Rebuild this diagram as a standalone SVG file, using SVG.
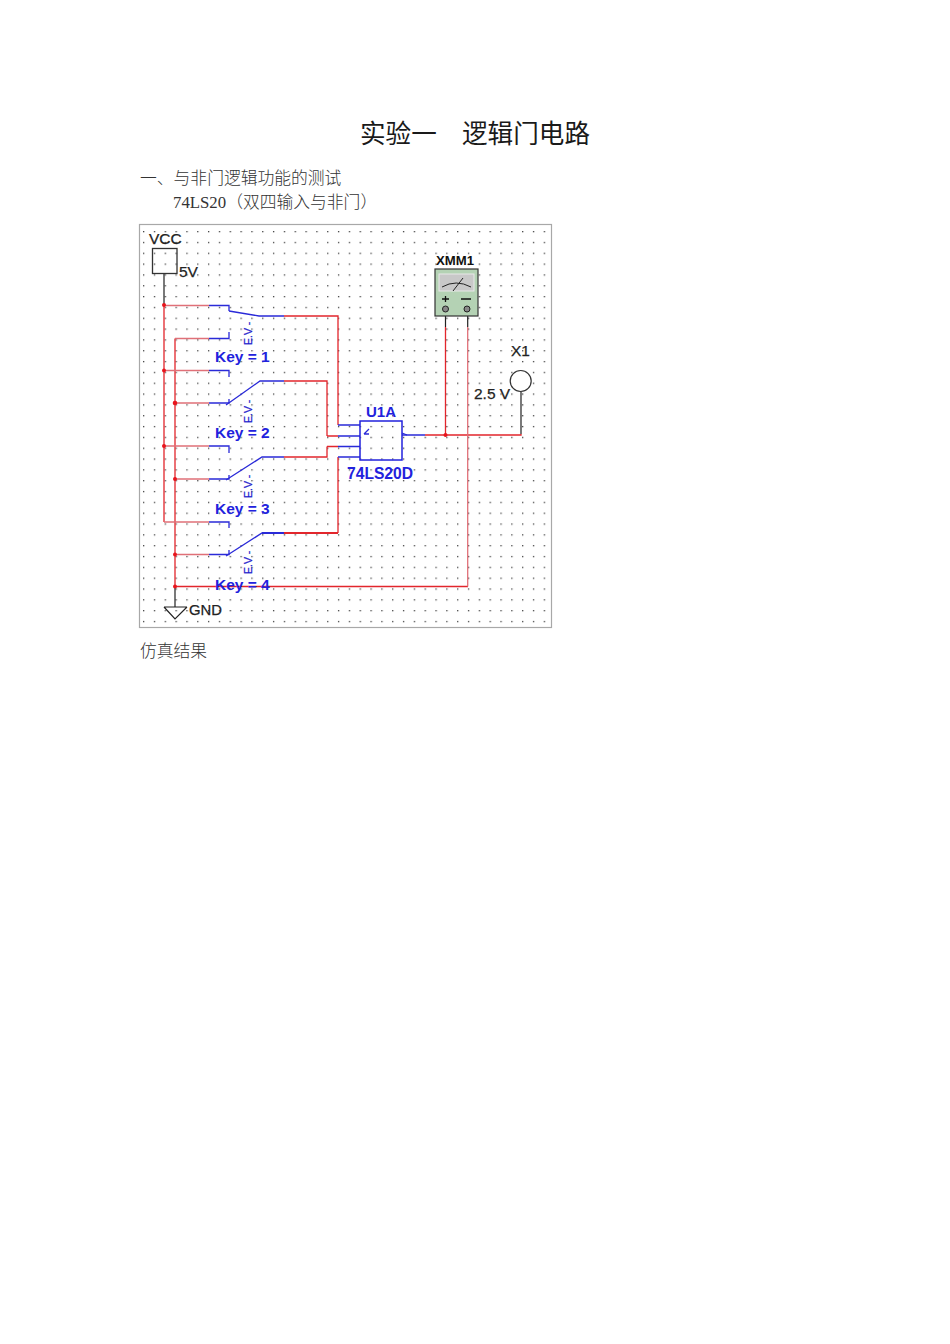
<svg xmlns="http://www.w3.org/2000/svg" width="950" height="1344" viewBox="0 0 950 1344">
<style>
.r{stroke:#e2262c;stroke-width:1.3;fill:none}
.rl{stroke:#e07078;stroke-width:1.3;fill:none}
.b{stroke:#2a2ad8;stroke-width:1.3;fill:none}
.k{stroke:#222;stroke-width:1.2;fill:none}
.d{fill:#e8141c}
.doc{font-family:"Liberation Serif","Noto Sans CJK SC",serif;font-size:16.8px;font-weight:300;fill:#333}
.title{font-family:"Noto Sans CJK SC",sans-serif;font-size:25.6px;fill:#1a1a1a}
.bl{font-family:"Liberation Sans",sans-serif;font-size:15.500px;fill:#2222dd;font-weight:bold}
.ev{font-family:"Liberation Sans",sans-serif;font-size:10.500px;fill:#2222cc;stroke:#2222cc;stroke-width:.25}
.bk{font-family:"Liberation Sans",sans-serif;font-size:15.500px;fill:#222;stroke:#222;stroke-width:.25}
</style>
<defs>
<pattern id="grid" x="143" y="231" width="10.83" height="10.83" patternUnits="userSpaceOnUse"><rect x="0" y="0" width="1.3" height="1.3" fill="#444"/></pattern>
</defs>
<rect width="950" height="1344" fill="#fff"/>
<g id="text-doc">
<text class="title" x="360" y="143">实验一</text>
<text class="title" x="462" y="143">逻辑门电路</text>
<text class="doc" x="140" y="184">一、与非门逻辑功能的测试</text>
<text class="doc" x="173" y="208">74LS20（双四输入与非门）</text>
<text class="doc" x="140" y="657">仿真结果</text>
</g>
<g id="frame">
<rect x="139.5" y="224.5" width="412" height="403" fill="#fff" stroke="#a8a8a8" stroke-width="1.2"/>
<rect x="141" y="226" width="409" height="400" fill="url(#grid)"/>
</g>
<g id="connectors">
<path class="k" d="M164 273V305M175 586V607M445.500 316V327M467.700 316V327M521 392V434"/>
<path class="r" d="M164 305V522M175 338.500V586"/>
<path class="rl" d="M164 305.500H209M175 338.500H209M164 370.500H209M175 403H209M164 446H209M175 479H209M164 522H209M175 554.500H209"/>
<path class="r" d="M284 316H338V425M284 381H327V436M284 457H327V446.500M338 457V533"/>
<path class="r" d="M327 436H338M327 446.500H338"/>
<path class="r" style="stroke-width:2" d="M284 533H338"/>
<path class="b" d="M338 425H360M338 436H360M338 446.500H360M338 457H360M402 435H425"/>
<path class="r" d="M425 435H521V434M445.500 327V435M175 586.500H468"/>
<path class="rl" d="M467.700 327V586.500"/>
<path class="b" d="M209 305.500H229V311M209 338.500H229V332M209 370.500H229V377M209 403H229V399M209 446H229V453M209 479H229V475M209 522H229V528M209 554.500H229V550"/>
<path class="b" d="M229 311L259 316H284M226 405L260 381H284M226 480L262 457H284M226 556L262 533H284"/>
<path class="b" style="stroke-width:2" d="M262 533H284"/>
<circle class="d" cx="164" cy="305" r="2"/><circle class="d" cx="175" cy="403" r="2.300"/><circle class="d" cx="164" cy="370.500" r="2"/><circle class="d" cx="164" cy="446" r="2"/><circle class="d" cx="175" cy="479" r="2"/><circle class="d" cx="175" cy="554.500" r="2"/><circle class="d" cx="175" cy="586.500" r="2"/><circle class="d" cx="445.500" cy="435" r="2"/>
</g>
<g id="vcc">
<rect x="152.500" y="248.500" width="24.500" height="25" fill="none" stroke="#333" stroke-width="1.300"/>
<text class="bk" x="149" y="244">VCC</text>
<text class="bk" x="179" y="277">5V</text>
</g>
<g id="gnd">
<path class="k" d="M164 607H187M164 607L175 619L187 607"/>
<text class="bk" x="189" y="615" textLength="33" lengthAdjust="spacingAndGlyphs">GND</text>
</g>
<g id="sw1"><text class="bl" x="215" y="362">Key = 1</text><text class="ev" transform="translate(252,345) rotate(-90)">E.V -</text></g>
<g id="sw2"><text class="bl" x="215" y="438">Key = 2</text><text class="ev" transform="translate(252,423) rotate(-90)">E.V -</text></g>
<g id="sw3"><text class="bl" x="215" y="514">Key = 3</text><text class="ev" transform="translate(252,498) rotate(-90)">E.V -</text></g>
<g id="sw4"><text class="bl" x="215" y="590">Key = 4</text><text class="ev" transform="translate(252,574) rotate(-90)">E.V -</text></g>
<g id="u1a">
<rect x="360" y="421" width="42" height="39" fill="none" stroke="#2222dd" stroke-width="1.500"/>
<path class="b" d="M364 434L369 429M364 434H369M402 433L407 435"/>
<text class="bl" x="366" y="417" style="font-size:15px">U1A</text>
<text class="bl" x="347" y="479" style="font-size:16px" textLength="66" lengthAdjust="spacingAndGlyphs">74LS20D</text>
</g>
<g id="xmm1">
<rect x="435" y="269" width="43" height="47" fill="#b4d2b4" stroke="#333" stroke-width="1.200"/>
<rect x="439" y="274" width="35" height="17" fill="#c8c8c8" stroke="#e8e8e8" stroke-width="1"/>
<path d="M442 287Q456 279 471 287M453 291L463 278" fill="none" stroke="#222" stroke-width="1"/>
<path d="M442 299H449M445.500 296V302M461 299H471" stroke="#111" stroke-width="1.300" fill="none"/>
<circle cx="445.500" cy="309" r="3" fill="#888" stroke="#222"/>
<circle cx="467" cy="309" r="3" fill="#888" stroke="#222"/>
<text x="436" y="265" style="font-family:'Liberation Sans',sans-serif;font-size:13px;font-weight:bold;fill:#111" textLength="38" lengthAdjust="spacingAndGlyphs">XMM1</text>
</g>
<g id="x1">
<circle cx="520.700" cy="381" r="10.500" fill="#fff" stroke="#333" stroke-width="1.200"/>
<text class="bk" x="511" y="356">X1</text>
<text class="bk" x="474" y="399">2.5 V</text>
</g>
</svg>
